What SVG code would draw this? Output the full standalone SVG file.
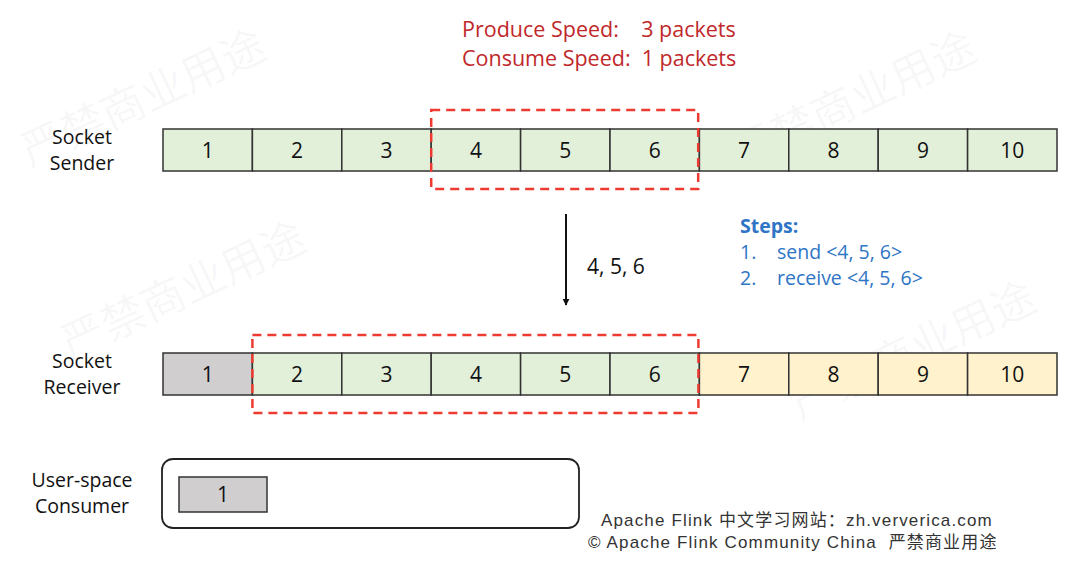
<svg xmlns="http://www.w3.org/2000/svg" width="1080" height="568" viewBox="0 0 1080 568">
<defs>
<style>
.bg{fill:#ffffff}
.wm{font-family:"Noto Sans CJK SC",sans-serif;font-size:44px;fill:#000;fill-opacity:0.04}
.lbl{font-family:"Open Sans","Liberation Sans",sans-serif;font-size:19.5px;fill:#111;text-anchor:middle}
.num{font-family:"Open Sans","Liberation Sans",sans-serif;font-size:21px;fill:#111;text-anchor:middle}
.g{fill:#e2efd9;stroke:#333;stroke-width:1.5}
.y{fill:#fff2cc;stroke:#333;stroke-width:1.5}
.gr{fill:#d0cece;stroke:#333;stroke-width:1.5}
.red{font-family:"Open Sans","Liberation Sans",sans-serif;font-size:21.5px;fill:#c0282a;white-space:pre}
.blue{font-family:"Open Sans","Liberation Sans",sans-serif;font-size:19.5px;fill:#2e75c6}
.dash{fill:none;stroke:#ee3b32;stroke-width:2.5;stroke-dasharray:9,6}
.foot{font-family:"Liberation Sans","Noto Sans CJK SC",sans-serif;font-size:17px;letter-spacing:1.15px;fill:#333;white-space:pre}
</style>
<marker id="ah" viewBox="0 0 10 10" refX="9" refY="5" markerWidth="7" markerHeight="7" orient="auto" markerUnits="userSpaceOnUse">
<path d="M0,0 L10,5 L0,10 z" fill="#111"/>
</marker>
</defs>
<rect class="bg" x="0" y="0" width="1080" height="568"/>
<g id="watermarks">
<text class="wm" transform="translate(30,168) rotate(-25)">严禁商业用途</text>
<text class="wm" transform="translate(740,170) rotate(-25)">严禁商业用途</text>
<text class="wm" transform="translate(70,360) rotate(-25)">严禁商业用途</text>
<text class="wm" transform="translate(800,420) rotate(-25)">严禁商业用途</text>
</g>
<g id="title">
<text class="red" x="462" y="37" xml:space="preserve">Produce Speed:    3 packets</text>
<text class="red" x="462" y="66" xml:space="preserve">Consume Speed:  1 packets</text>
</g>
<g id="sender-label">
<text class="lbl" x="82" y="144">Socket</text>
<text class="lbl" x="82" y="170">Sender</text>
</g>
<g id="sender">
<rect class="g" x="163" y="129" width="89.4" height="42"/>
<rect class="g" x="252.4" y="129" width="89.4" height="42"/>
<rect class="g" x="341.8" y="129" width="89.4" height="42"/>
<rect class="g" x="431.2" y="129" width="89.4" height="42"/>
<rect class="g" x="520.6" y="129" width="89.4" height="42"/>
<rect class="g" x="610" y="129" width="89.4" height="42"/>
<rect class="g" x="699.4" y="129" width="89.4" height="42"/>
<rect class="g" x="788.8" y="129" width="89.4" height="42"/>
<rect class="g" x="878.2" y="129" width="89.4" height="42"/>
<rect class="g" x="967.6" y="129" width="89.4" height="42"/>
<text class="num" x="207.7" y="158">1</text>
<text class="num" x="297.1" y="158">2</text>
<text class="num" x="386.5" y="158">3</text>
<text class="num" x="475.9" y="158">4</text>
<text class="num" x="565.3" y="158">5</text>
<text class="num" x="654.7" y="158">6</text>
<text class="num" x="744.1" y="158">7</text>
<text class="num" x="833.5" y="158">8</text>
<text class="num" x="922.9" y="158">9</text>
<text class="num" x="1012.3" y="158">10</text>
</g>
<g id="sender-window">
<rect class="dash" x="431.2" y="110" width="267" height="79"/>
</g>
<g id="connectors">
<line x1="566" y1="214" x2="566" y2="305" stroke="#111" stroke-width="2" marker-end="url(#ah)"/>
<text class="num" x="587" y="274" style="text-anchor:start">4, 5, 6</text>
</g>
<g id="steps">
<text class="blue" x="740" y="233" font-weight="bold">Steps:</text>
<text class="blue" x="740" y="259">1.</text>
<text class="blue" x="777" y="259">send &lt;4, 5, 6&gt;</text>
<text class="blue" x="740" y="285">2.</text>
<text class="blue" x="777" y="285">receive &lt;4, 5, 6&gt;</text>
</g>
<g id="receiver-label">
<text class="lbl" x="82" y="368">Socket</text>
<text class="lbl" x="82" y="394">Receiver</text>
</g>
<g id="receiver">
<rect class="gr" x="163" y="353" width="89.4" height="42"/>
<rect class="g" x="252.4" y="353" width="89.4" height="42"/>
<rect class="g" x="341.8" y="353" width="89.4" height="42"/>
<rect class="g" x="431.2" y="353" width="89.4" height="42"/>
<rect class="g" x="520.6" y="353" width="89.4" height="42"/>
<rect class="g" x="610" y="353" width="89.4" height="42"/>
<rect class="y" x="699.4" y="353" width="89.4" height="42"/>
<rect class="y" x="788.8" y="353" width="89.4" height="42"/>
<rect class="y" x="878.2" y="353" width="89.4" height="42"/>
<rect class="y" x="967.6" y="353" width="89.4" height="42"/>
<text class="num" x="207.7" y="382">1</text>
<text class="num" x="297.1" y="382">2</text>
<text class="num" x="386.5" y="382">3</text>
<text class="num" x="475.9" y="382">4</text>
<text class="num" x="565.3" y="382">5</text>
<text class="num" x="654.7" y="382">6</text>
<text class="num" x="744.1" y="382">7</text>
<text class="num" x="833.5" y="382">8</text>
<text class="num" x="922.9" y="382">9</text>
<text class="num" x="1012.3" y="382">10</text>
</g>
<g id="receiver-window">
<rect class="dash" x="252.4" y="335" width="446" height="78"/>
</g>
<g id="consumer-label">
<text class="lbl" x="82" y="487">User-space</text>
<text class="lbl" x="82" y="513">Consumer</text>
</g>
<g id="consumer">
<rect x="162" y="459" width="417" height="69" rx="11" ry="11" fill="#fff" stroke="#222" stroke-width="1.8"/>
<rect class="gr" x="179" y="477" width="88" height="35"/>
<text class="num" x="223" y="502">1</text>
</g>
<g id="footer">
<text class="foot" x="601" y="526" xml:space="preserve">Apache Flink 中文学习网站：zh.ververica.com</text>
<text class="foot" x="588" y="548" xml:space="preserve">© Apache Flink Community China  严禁商业用途</text>
</g>
</svg>
